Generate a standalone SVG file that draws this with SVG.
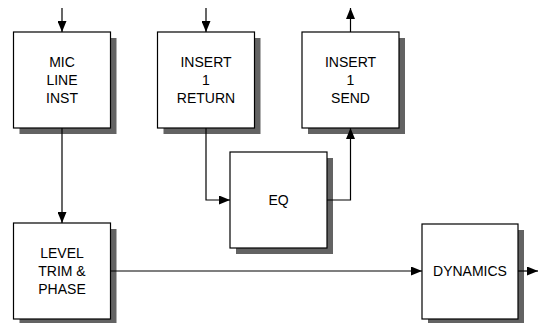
<svg xmlns="http://www.w3.org/2000/svg" width="539" height="323" viewBox="0 0 539 323">
<style>
.sh{fill:#636363}
.bx{fill:#fff;stroke:#000;stroke-width:1.2}
.t{font-family:"Liberation Sans",Arial,sans-serif;font-size:14px;text-anchor:middle;fill:#000}
.c{fill:none;stroke:#000;stroke-width:1.2}
</style>
<defs>
<marker id="ah" markerWidth="11" markerHeight="9" refX="11" refY="4.5" orient="auto" markerUnits="userSpaceOnUse">
<path d="M0,0 L11,4.5 L0,9 Z" fill="#000"/>
</marker>
</defs>
<rect width="539" height="323" fill="#fff"/>
<g id="mic">
<rect class="sh" x="19.5" y="38" width="97" height="96"/>
<rect class="bx" x="13.5" y="32" width="97" height="96"/>
<text class="t" x="62" y="67">MIC</text>
<text class="t" x="62" y="85">LINE</text>
<text class="t" x="62" y="103">INST</text>
</g>
<g id="ins_ret">
<rect class="sh" x="163.5" y="38" width="97" height="96"/>
<rect class="bx" x="157.5" y="32" width="97" height="96"/>
<text class="t" x="206" y="67">INSERT</text>
<text class="t" x="206" y="85">1</text>
<text class="t" x="206" y="103">RETURN</text>
</g>
<g id="ins_send">
<rect class="sh" x="308" y="38" width="97" height="96"/>
<rect class="bx" x="302" y="32" width="97" height="96"/>
<text class="t" x="350.5" y="67">INSERT</text>
<text class="t" x="350.5" y="85">1</text>
<text class="t" x="350.5" y="103">SEND</text>
</g>
<g id="eq">
<rect class="sh" x="236" y="158" width="97" height="96"/>
<rect class="bx" x="230" y="152" width="97" height="96"/>
<text class="t" x="278.5" y="205">EQ</text>
</g>
<g id="level">
<rect class="sh" x="19.5" y="229" width="97" height="96"/>
<rect class="bx" x="13.5" y="223" width="97" height="96"/>
<text class="t" x="62" y="258">LEVEL</text>
<text class="t" x="62" y="276">TRIM &amp;</text>
<text class="t" x="62" y="294">PHASE</text>
</g>
<g id="dyn">
<rect class="sh" x="428" y="230" width="96" height="95"/>
<rect class="bx" x="422" y="224" width="96" height="95"/>
<text class="t" x="470" y="276">DYNAMICS</text>
</g>
<g id="connectors">
<path class="c" d="M62,8 V32" marker-end="url(#ah)"/>
<path class="c" d="M206,8 V32" marker-end="url(#ah)"/>
<path class="c" d="M350.5,32 V8" marker-end="url(#ah)"/>
<path class="c" d="M62,128 V223" marker-end="url(#ah)"/>
<path class="c" d="M206,128 V200 H230" marker-end="url(#ah)"/>
<path class="c" d="M327,200 H350.5 V128" marker-end="url(#ah)"/>
<path class="c" d="M110.5,271 H422" marker-end="url(#ah)"/>
<path class="c" d="M518,271 H538" marker-end="url(#ah)"/>
</g>
</svg>
